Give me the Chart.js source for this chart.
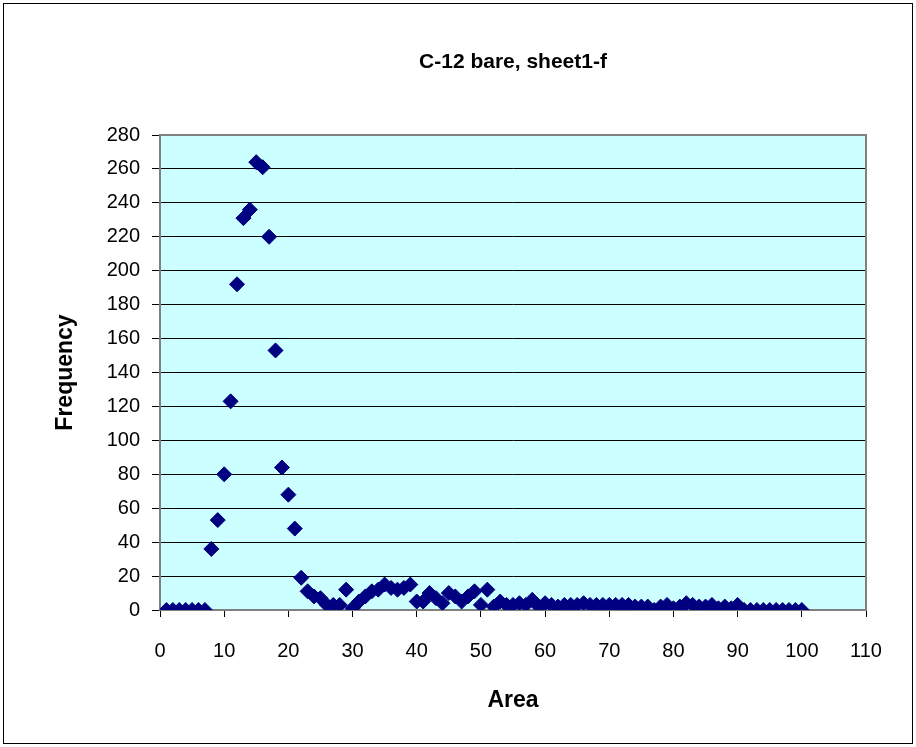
<!DOCTYPE html>
<html>
<head>
<meta charset="utf-8">
<script src="https://cdn.jsdelivr.net/npm/chart.js@4/dist/chart.umd.min.js"></script>
<style>
  html, body { margin: 0; padding: 0; background: #ffffff; }
  #wrap { width: 916px; height: 747px; position: relative; }
</style>
</head>
<body>
<div id="wrap"><canvas id="chart"></canvas></div>
<script>
// area bins (x) and counts (y)
var areaBins = [
  1, 2, 3, 4, 5, 6, 7, 8, 9, 10,
  11, 12, 13, 14, 15, 16, 17, 18, 19, 20,
  21, 22, 23, 24, 25, 26, 27, 28, 29, 30,
  31, 32, 33, 34, 35, 36, 37, 38, 39, 40,
  41, 42, 43, 44, 45, 46, 47, 48, 49, 50,
  51, 52, 53, 54, 55, 56, 57, 58, 59, 60,
  61, 62, 63, 64, 65, 66, 67, 68, 69, 70,
  71, 72, 73, 74, 75, 76, 77, 78, 79, 80,
  81, 82, 83, 84, 85, 86, 87, 88, 89, 90,
  91, 92, 93, 94, 95, 96, 97, 98, 99, 100
];
var frequency = [
  0, 0, 0, 0, 0, 0, 0, 36, 53, 80,
  123, 192, 231, 236, 264, 261, 220, 153, 84, 68,
  48, 19, 11, 8, 7, 3, 3, 3, 12, 1,
  5, 8, 11, 12, 15, 13, 12, 13, 15, 5,
  5, 10, 7, 4, 10, 8, 5, 8, 11, 3,
  12, 2, 5, 3, 3, 4, 3, 6, 2, 4,
  3, 2, 3, 3, 3, 4, 3, 3, 3, 3,
  3, 3, 3, 2, 2, 2, 0, 2, 3, 1,
  2, 4, 3, 2, 2, 3, 1, 2, 1, 3,
  0, 0, 0, 0, 0, 0, 0, 0, 0, 0
];
var chartTitle = "C-12 bare, sheet1-f";
var xTitle = "Area";
var yTitle = "Frequency";

var points = [];
for (var i = 0; i < areaBins.length; i++) {
  points.push({x: areaBins[i], y: frequency[i]});
}

var FONT = "'Liberation Sans', Arial, sans-serif";

// plot background, plot frame, outer frame and the title (centred over the plot)
var framePlugin = {
  id: 'frames',
  beforeDraw: function(chart){
    var ctx = chart.ctx, a = chart.chartArea;
    ctx.save();
    ctx.fillStyle = "#ffffff";
    ctx.fillRect(0, 0, chart.width, chart.height);
    ctx.fillStyle = "#ccffff";
    ctx.fillRect(a.left, a.top, a.right - a.left, a.bottom - a.top);
    ctx.strokeStyle = "#000000";
    ctx.lineWidth = 1;
    ctx.strokeRect(3.5, 3.5, 909, 740);
    ctx.fillStyle = "#000000";
    ctx.font = "bold 21px " + FONT;
    ctx.textAlign = "center";
    ctx.textBaseline = "middle";
    ctx.fillText(chartTitle, (a.left + a.right) / 2, 62);
    ctx.restore();
  },
  beforeDatasetsDraw: function(chart){
    var ctx = chart.ctx, a = chart.chartArea;
    ctx.save();
    ctx.strokeStyle = "#808080";
    ctx.lineWidth = 2;
    ctx.strokeRect(a.left, a.top, a.right - a.left, a.bottom - a.top);
    ctx.restore();
  }
};

new Chart(document.getElementById('chart'), {
  type: 'scatter',
  data: {
    datasets: [{
      label: 'Frequency',
      data: points,
      pointStyle: 'rectRot',
      pointRadius: 7.5,
      pointHoverRadius: 7.5,
      backgroundColor: '#000080',
      borderColor: '#000080',
      borderWidth: 1
    }]
  },
  plugins: [framePlugin],
  options: {
    responsive: true,
    maintainAspectRatio: false,
    animation: false,
    events: [],
    layout: { padding: { left: 0, right: 50, top: 135, bottom: 0 } },
    plugins: {
      legend: { display: false },
      tooltip: { enabled: false },
      title: { display: false }
    },
    scales: {
      x: {
        type: 'linear',
        min: 0,
        max: 110,
        ticks: {
          stepSize: 10,
          color: '#000000',
          padding: 22,
          font: { family: FONT, size: 20 }
        },
        grid: {
          drawOnChartArea: false,
          drawTicks: true,
          tickLength: 7,
          color: '#000000'
        },
        border: { color: '#808080' },
        title: {
          display: true,
          text: xTitle,
          color: '#000000',
          font: { family: FONT, size: 23, weight: 'bold' },
          padding: { top: 0, bottom: 33 }
        },
        afterFit: function(scale){ scale.height = 137; }
      },
      y: {
        min: 0,
        max: 280,
        ticks: {
          stepSize: 20,
          color: '#000000',
          padding: 12,
          font: { family: FONT, size: 20 }
        },
        grid: {
          color: '#000000',
          lineWidth: 1,
          drawTicks: true,
          tickLength: 8
        },
        border: { color: '#808080' },
        title: {
          display: true,
          text: yTitle,
          color: '#000000',
          font: { family: FONT, size: 23, weight: 'bold' },
          padding: { top: 52, bottom: 0 }
        },
        afterFit: function(scale){ scale.width = 160; }
      }
    }
  }
});
</script>
</body>
</html>
